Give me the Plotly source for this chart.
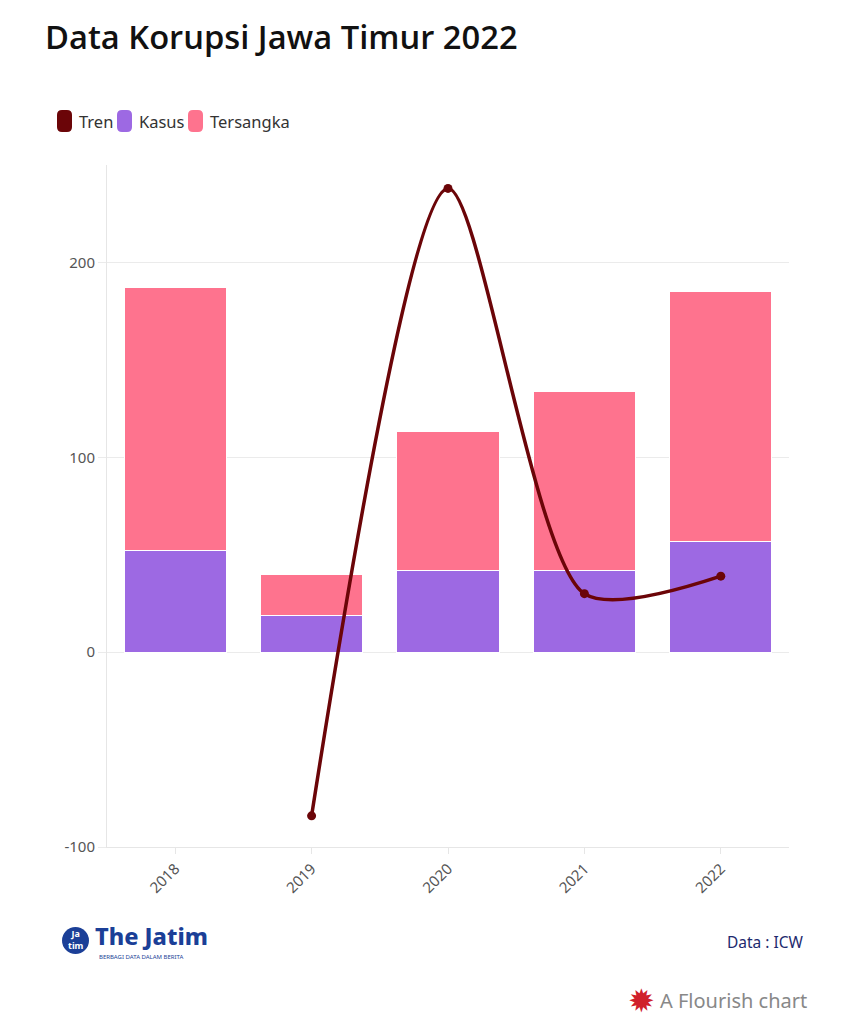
import plotly.graph_objects as go

years = ["2018", "2019", "2020", "2021", "2022"]
kasus = [52, 19, 42, 42, 57]
tersangka = [135, 21, 71, 92, 128]
tren = [None, -84, 238, 30, 39]

C_KASUS = "#9d69e3"
C_TERS = "#fe738e"
C_TREN = "#6b0508"
FONT = "Noto Sans"

# page-pixel -> paper helpers (plot area spans page px 107..789 x 165..847; body has 8px margin)
def X(px):
    return (px - 107) / 682

def Y(py):
    return (847 - py) / 682

fig = go.Figure()
fig.add_trace(go.Bar(x=years, y=kasus, name="Kasus",
                     marker=dict(color=C_KASUS, line=dict(color="white", width=1))))
fig.add_trace(go.Bar(x=years, y=tersangka, name="Tersangka",
                     marker=dict(color=C_TERS, line=dict(color="white", width=1))))
fig.add_trace(go.Scatter(x=years, y=tren, name="Tren", mode="lines+markers",
                         line=dict(color=C_TREN, width=3.5, shape="spline", smoothing=0.75),
                         marker=dict(color=C_TREN, size=9)))

fig.update_layout(
    width=863, height=1024,
    barmode="stack", bargap=0.25,
    plot_bgcolor="white", paper_bgcolor="white",
    margin=dict(l=99, r=82, t=157, b=185),
    font=dict(family=FONT, color="#555", size=15),
    title=dict(text="Data Korupsi Jawa Timur 2022", x=37/863, xanchor="left", y=1-30/1024, yanchor="middle",
               font=dict(family="Open Sans", size=32.7, color="#111", weight=600)),
    showlegend=False,
)
fig.update_xaxes(range=[-0.5, 4.5], tickangle=-45, showgrid=False, showline=True, linecolor="#e6e6e6",
                 ticks="outside", ticklen=6, tickcolor="#e6e6e6", tickfont=dict(size=15, color="#555"))
fig.update_yaxes(range=[-100, 250], tickvals=[-100, 0, 100, 200], ticktext=["-100", "0", "100", "200"],
                 showgrid=True, gridcolor="#ebebeb",
                 zeroline=False, showline=True, linecolor="#e6e6e6", ticks="outside", ticklen=8,
                 tickcolor="#ebebeb", tickfont=dict(size=15, color="#555"))

# custom legend (rounded swatches)
legend_items = [("Tren", C_TREN, 57, 77), ("Kasus", C_KASUS, 117, 137), ("Tersangka", C_TERS, 188, 208)]
for name, col, sx, tx in legend_items:
    x0, x1 = X(sx), X(sx + 15)
    y0, y1 = Y(132), Y(110)
    rx, ry = 5 / 682, 5 / 682
    path = (f"M {x0+rx},{y0} L {x1-rx},{y0} Q {x1},{y0} {x1},{y0+ry} L {x1},{y1-ry} Q {x1},{y1} {x1-rx},{y1} "
            f"L {x0+rx},{y1} Q {x0},{y1} {x0},{y1-ry} L {x0},{y0+ry} Q {x0},{y0} {x0+rx},{y0} Z")
    fig.add_shape(type="path", path=path, xref="paper", yref="paper", fillcolor=col, line=dict(width=0))
    fig.add_annotation(text=name, xref="paper", yref="paper", x=X(tx), y=Y(121), showarrow=False,
                       xanchor="left", yanchor="middle", font=dict(family=FONT, size=16.5, color="#333"))

# footer: logo
fig.add_shape(type="circle", xref="paper", yref="paper",
              x0=X(62), x1=X(89), y0=Y(954), y1=Y(927),
              fillcolor="#1b3f97", line=dict(width=0))
fig.add_annotation(text="<b>Ja<br>tim</b>", xref="paper", yref="paper", x=X(75.5), y=Y(940),
                   showarrow=False, font=dict(family=FONT, size=9, color="white"), xanchor="center", yanchor="middle")
fig.add_annotation(text="The Jatim", xref="paper", yref="paper", x=X(94), y=Y(935.5), borderpad=0,
                   showarrow=False, font=dict(family=FONT, size=23.5, color="#1b3f97", weight=800),
                   xanchor="left", yanchor="middle")
fig.add_annotation(text="BERBAGI DATA DALAM BERITA", xref="paper", yref="paper", x=X(98), y=Y(956.5), borderpad=0,
                   showarrow=False, font=dict(family=FONT, size=6, color="#1b3f97"), xanchor="left", yanchor="middle")
fig.add_annotation(text="Data : ICW", xref="paper", yref="paper", x=X(806), y=Y(942),
                   showarrow=False, font=dict(family=FONT, size=15.5, color="#1e2a6e"), xanchor="right", yanchor="middle")
fig.add_annotation(text="✹", xref="paper", yref="paper", x=X(641), y=Y(1001), showarrow=False,
                   font=dict(family="DejaVu Sans", size=32, color="#d0202a"), xanchor="center", yanchor="middle")
fig.add_annotation(text="A Flourish chart", xref="paper", yref="paper",
                   x=X(809), y=Y(1000), showarrow=False,
                   font=dict(family=FONT, size=20, color="#888"), xanchor="right", yanchor="middle")

fig.write_html("out.html")
